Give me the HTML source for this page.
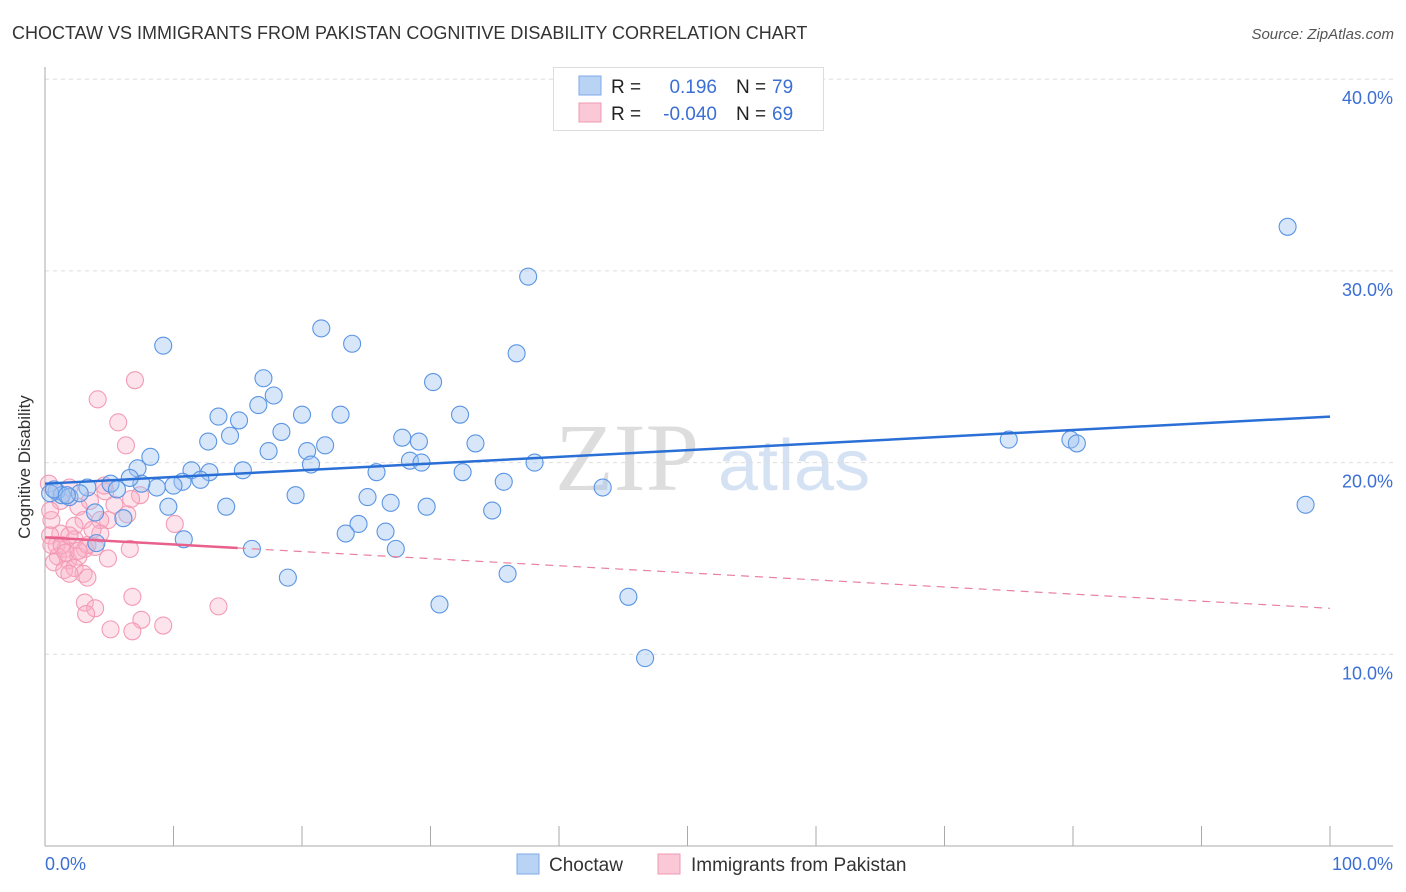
<!DOCTYPE html>
<html><head><meta charset="utf-8"><style>
body{margin:0;background:#fff;font-family:"Liberation Sans",sans-serif;}
svg{display:block}
</style></head><body>
<svg id="chart" width="1406" height="892">
<text x="12" y="39" font-size="18" fill="#333">CHOCTAW VS IMMIGRANTS FROM PAKISTAN COGNITIVE DISABILITY CORRELATION CHART</text>
<text x="1394" y="39" font-size="15" fill="#555" font-style="italic" text-anchor="end">Source: ZipAtlas.com</text>
<g>
<text x="555" y="490" font-size="96" fill="#ddd" font-family="Liberation Serif">ZIP</text>
<text x="718" y="490" font-size="72" fill="#d4e2f4">atlas</text>
</g>
<g id="grid"></g>
<g id="axes"></g>
<g id="marks"></g>
<text x="18" y="455" font-size="17" fill="#333" transform="rotate(-90 30 455)" text-anchor="middle">Cognitive Disability</text>
<text x="45" y="870" font-size="18" fill="#3b6fd3">0.0%</text>
<text x="1393" y="870" font-size="18" fill="#3b6fd3" text-anchor="end">100.0%</text>
<g>
<rect x="553.5" y="67.5" width="270" height="63" fill="#fff" stroke="#ddd"/>
<rect x="579" y="76" width="22" height="19" fill="#b9d3f5" stroke="#7eaae8"/>
<rect x="579" y="103" width="22" height="19" fill="#fac8d6" stroke="#f09ab2"/>
<text x="611" y="93" font-size="19" fill="#222">R =</text>
<text x="717" y="93" font-size="19" fill="#3b6fd3" text-anchor="end">0.196</text>
<text x="736" y="93" font-size="19" fill="#222">N =</text>
<text x="772" y="93" font-size="19" fill="#3b6fd3">79</text>
<text x="611" y="120" font-size="19" fill="#222">R =</text>
<text x="717" y="120" font-size="19" fill="#3b6fd3" text-anchor="end">-0.040</text>
<text x="736" y="120" font-size="19" fill="#222">N =</text>
<text x="772" y="120" font-size="19" fill="#3b6fd3">69</text>
</g>
<g>
<rect x="517" y="854" width="22" height="20" fill="#b9d3f5" stroke="#7eaae8"/>
<text x="549" y="871" font-size="19" fill="#333">Choctaw</text>
<rect x="658" y="854" width="22" height="20" fill="#fac8d6" stroke="#f09ab2"/>
<text x="691" y="871" font-size="19" fill="#333">Immigrants from Pakistan</text>
</g>
</svg>
<script>
const yTicks=[10,20,30,40];
const yTickLabels=["10.0%","20.0%","30.0%","40.0%"];
const xTicks=[0,10,20,30,40,50,60,70,80,90,100];
const blueX=[96.7,37.6,21.5,9.2,23.9,36.7,17.0,30.2,17.8,16.6,13.5,15.1,20.0,23.0,32.3,12.7,14.4,18.4,27.8,29.1,17.4,21.8,20.4,33.5,75.0,79.8,80.3,8.2,7.2,11.4,12.8,15.4,20.7,28.4,29.3,25.8,32.5,38.1,10.7,12.1,8.7,10.0,7.5,6.6,5.1,5.6,0.9,1.3,1.9,3.3,0.4,19.5,25.1,26.9,29.7,35.7,43.4,14.1,9.6,34.8,98.1,3.9,6.1,24.4,23.4,26.5,10.8,4.0,16.1,27.3,18.9,36.0,30.7,45.4,46.7,0.7,2.7,1.7];
const blueY=[32.3,29.7,27.0,26.1,26.2,25.7,24.4,24.2,23.5,23.0,22.4,22.2,22.5,22.5,22.5,21.1,21.4,21.6,21.3,21.1,20.6,20.9,20.6,21.0,21.2,21.2,21.0,20.3,19.7,19.6,19.5,19.6,19.9,20.1,20.0,19.5,19.5,20.0,19.0,19.1,18.7,18.8,18.9,19.2,18.9,18.6,18.5,18.3,18.2,18.7,18.4,18.3,18.2,17.9,17.7,19.0,18.7,17.7,17.7,17.5,17.8,17.4,17.1,16.8,16.3,16.4,16.0,15.8,15.5,15.5,14.0,14.2,12.6,13.0,9.8,18.6,18.4,18.3];
const pinkX=[7.0,4.1,5.7,6.3,0.3,1.2,1.9,2.6,4.7,5.4,7.4,6.7,4.6,3.5,4.9,6.4,10.1,4.3,3.0,2.3,1.2,0.5,0.4,0.9,1.6,2.3,3.1,3.9,1.0,1.8,2.6,3.3,4.3,4.9,6.6,0.7,1.5,2.3,3.0,3.3,1.9,3.1,3.9,3.2,6.8,7.5,5.1,6.8,9.2,13.5,0.4,0.5,1.3,1.9,3.7,1.6,2.6];
const pinkY=[24.3,23.3,22.1,20.9,18.9,18.0,18.7,17.7,18.5,17.8,18.3,18.1,18.8,18.0,17.0,17.3,16.8,17.0,17.0,16.7,16.3,17.0,16.2,15.7,15.5,16.0,15.5,15.6,15.1,14.9,15.1,15.7,16.3,15.0,15.5,14.8,14.4,14.5,14.2,14.0,14.2,12.7,12.4,12.1,13.0,11.8,11.3,11.2,11.5,12.5,17.5,15.7,15.7,16.2,16.5,15.3,15.4];
const blueTrend=[18.9,22.4];
const pinkTrend=[16.1,12.4];
const pinkSolidEnd=15;
const NS="http://www.w3.org/2000/svg";
const X0=45,X1=1330,Y0=846,PPY=19.17;
function sx(v){return X0+(X1-X0)*v/100;}
function sy(v){return Y0-v*PPY;}
function mk(tag,attrs,parent){const e=document.createElementNS(NS,tag);for(const k in attrs)e.setAttribute(k,attrs[k]);document.getElementById(parent).appendChild(e);return e;}
yTicks.forEach((t,i)=>{
 const l=mk('line',{x1:45,x2:1393,y1:sy(t),y2:sy(t),stroke:'#ddd','stroke-dasharray':'4 4'},'grid');
 
 
 const tx=mk('text',{x:1393,y:sy(t)+25,'font-size':18,fill:'#3b6fd3','text-anchor':'end'},'grid');
 tx.textContent=yTickLabels[i];
 
 
});
const ya=mk('line',{x1:45,x2:45,y1:67,y2:846,stroke:'#aaa'},'axes');


const xa=mk('line',{x1:45,x2:1393,y1:846,y2:846,stroke:'#aaa'},'axes');


xTicks.forEach(t=>{
 const l=mk('line',{x1:sx(t),x2:sx(t),y1:826,y2:846,stroke:'#aaa'},'axes');
 
 
});
pinkX.forEach((v,i)=>{
 const c=mk('circle',{cx:sx(v),cy:sy(pinkY[i]),r:8.5,fill:'rgba(248,176,198,0.35)',stroke:'#f39bb5','stroke-width':1.1},'marks');
 
 
});
blueX.forEach((v,i)=>{
 const c=mk('circle',{cx:sx(v),cy:sy(blueY[i]),r:8.5,fill:'rgba(160,196,240,0.42)',stroke:'#5b95e3','stroke-width':1.1},'marks');
 
 
});
const bt=mk('line',{x1:sx(0),y1:sy(blueTrend[0]),x2:sx(100),y2:sy(blueTrend[1]),stroke:'#2a6fd6','stroke-width':2.5},'marks');


const pMid=pinkTrend[0]+(pinkTrend[1]-pinkTrend[0])*pinkSolidEnd/100;
const pt=mk('line',{x1:sx(0),y1:sy(pinkTrend[0]),x2:sx(pinkSolidEnd),y2:sy(pMid),stroke:'#e8608c','stroke-width':2.5},'marks');


const pd=mk('line',{x1:sx(pinkSolidEnd),y1:sy(pMid),x2:sx(100),y2:sy(pinkTrend[1]),stroke:'#e8809f','stroke-width':1.2,'stroke-dasharray':'8 6'},'marks');


</script>
</body></html>
